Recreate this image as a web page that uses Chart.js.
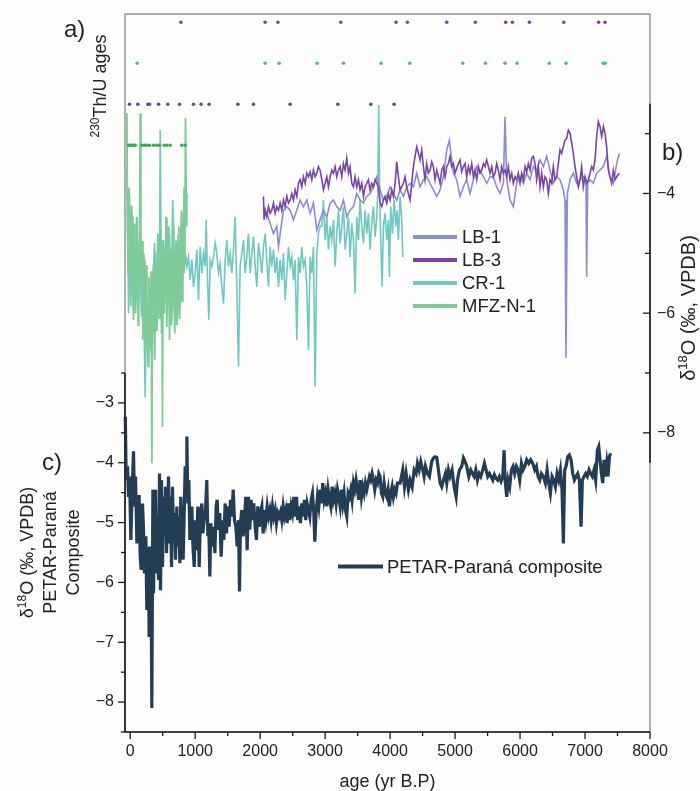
<!DOCTYPE html>
<html>
<head>
<meta charset="utf-8">
<script src="https://cdn.jsdelivr.net/npm/chart.js@4.4.1/dist/chart.umd.min.js"></script>
<style>
  html, body { margin: 0; padding: 0; background: #fdfdfb; }
  #wrap { width: 700px; height: 791px; }
</style>
</head>
<body>
<div id="wrap"><canvas id="chart" width="700" height="791"></canvas></div>
<script>
const FONT = '"Liberation Sans", Arial, Helvetica, sans-serif';

// δ18O records: [age (yr B.P.), δ18O (‰ VPDB)]
const compositeSeries = [[-75,-3.23],[-62,-4.29],[-41,-4.06],[-26,-4.57],[-10,-4.23],[10,-5.29],[31,-4.45],[51,-3.81],[67,-4.73],[82,-4.23],[103,-5.35],[123,-4.96],[138,-4.54],[154,-5.57],[169,-5.79],[190,-4.68],[205,-5.12],[220,-5.85],[241,-5.23],[256,-6.46],[277,-5.40],[292,-6.91],[308,-5.40],[323,-6.07],[333,-8.10],[349,-4.45],[359,-6.18],[374,-4.96],[390,-4.45],[405,-5.85],[420,-4.96],[436,-5.96],[451,-4.18],[467,-6.13],[482,-4.29],[497,-5.74],[513,-4.57],[528,-5.18],[544,-4.40],[559,-5.51],[574,-4.84],[590,-4.23],[605,-5.35],[621,-4.57],[636,-5.74],[651,-4.40],[667,-5.29],[682,-4.84],[697,-5.62],[718,-4.73],[733,-5.40],[749,-4.90],[764,-5.68],[779,-4.57],[795,-5.23],[815,-5.62],[831,-4.84],[846,-4.06],[862,-4.29],[872,-3.56],[887,-4.68],[903,-4.29],[918,-5.29],[933,-5.07],[949,-4.73],[964,-5.35],[985,-5.74],[1000,-4.96],[1020,-5.46],[1041,-4.73],[1062,-5.74],[1082,-4.84],[1103,-4.68],[1118,-5.18],[1138,-4.96],[1159,-4.79],[1179,-4.29],[1195,-5.23],[1210,-5.07],[1226,-5.90],[1241,-5.01],[1262,-5.40],[1282,-5.07],[1303,-5.51],[1323,-4.73],[1338,-4.62],[1359,-5.12],[1379,-4.84],[1400,-5.57],[1420,-4.96],[1441,-5.29],[1461,-4.68],[1482,-5.18],[1502,-4.73],[1523,-5.07],[1544,-4.62],[1564,-4.90],[1585,-4.45],[1605,-4.96],[1626,-5.07],[1646,-5.40],[1667,-4.96],[1682,-6.15],[1697,-5.01],[1718,-4.79],[1738,-5.23],[1759,-4.96],[1779,-4.57],[1800,-5.46],[1820,-4.57],[1841,-5.12],[1861,-4.62],[1882,-4.96],[1902,-4.68],[1923,-5.07],[1943,-5.29],[1964,-4.73],[1985,-5.07],[2005,-4.84],[2026,-4.73],[2046,-5.18],[2067,-4.79],[2087,-4.96],[2108,-4.73],[2128,-4.90],[2149,-4.79],[2169,-4.96],[2190,-4.73],[2210,-4.90],[2231,-4.79],[2251,-5.01],[2272,-4.84],[2292,-4.90],[2313,-4.82],[2333,-4.96],[2354,-4.73],[2374,-4.90],[2395,-4.79],[2415,-5.01],[2436,-4.68],[2456,-4.96],[2477,-4.73],[2497,-4.84],[2518,-4.57],[2538,-4.90],[2559,-4.57],[2579,-4.96],[2600,-4.73],[2620,-5.01],[2641,-4.68],[2661,-4.90],[2682,-4.62],[2702,-4.96],[2723,-4.68],[2744,-4.79],[2764,-4.90],[2785,-4.62],[2805,-4.51],[2826,-4.84],[2841,-5.32],[2861,-4.84],[2882,-4.57],[2903,-4.73],[2923,-4.45],[2944,-4.68],[2964,-4.34],[2985,-4.62],[3005,-4.51],[3026,-4.73],[3046,-4.45],[3067,-4.62],[3087,-4.73],[3108,-4.40],[3128,-4.62],[3149,-4.51],[3169,-4.68],[3190,-4.45],[3210,-4.57],[3231,-4.73],[3251,-4.45],[3272,-4.68],[3292,-4.51],[3313,-4.79],[3333,-4.90],[3354,-4.51],[3374,-4.57],[3395,-4.45],[3415,-4.62],[3436,-4.34],[3456,-4.45],[3477,-4.29],[3497,-4.45],[3518,-4.62],[3538,-4.29],[3559,-4.57],[3579,-4.40],[3600,-4.51],[3620,-4.34],[3641,-4.45],[3661,-4.34],[3682,-4.23],[3702,-4.29],[3723,-4.18],[3743,-4.29],[3764,-4.45],[3785,-4.29],[3805,-4.34],[3826,-4.18],[3846,-4.23],[3867,-4.51],[3887,-4.57],[3908,-4.34],[3928,-4.51],[3949,-4.57],[3969,-4.45],[3990,-4.73],[4010,-4.51],[4031,-4.40],[4051,-4.57],[4072,-4.45],[4092,-4.51],[4113,-4.34],[4154,-4.34],[4195,-4.12],[4221,-4.40],[4247,-4.18],[4282,-4.45],[4308,-4.29],[4339,-4.40],[4370,-4.12],[4400,-4.18],[4421,-4.01],[4447,-4.12],[4472,-3.98],[4503,-4.12],[4523,-4.23],[4544,-4.06],[4575,-4.18],[4605,-4.23],[4641,-3.98],[4667,-3.92],[4693,-3.90],[4718,-3.91],[4744,-4.12],[4770,-4.34],[4795,-4.40],[4821,-4.29],[4852,-4.18],[4872,-4.34],[4898,-4.12],[4923,-4.23],[4954,-4.12],[4985,-4.40],[5016,-4.57],[5036,-4.29],[5067,-4.12],[5103,-4.06],[5129,-3.92],[5154,-3.98],[5180,-4.06],[5211,-4.23],[5241,-4.12],[5267,-4.18],[5293,-4.23],[5318,-4.12],[5344,-4.29],[5370,-4.18],[5395,-4.23],[5426,-4.12],[5452,-4.01],[5477,-4.12],[5503,-4.23],[5529,-4.18],[5554,-4.23],[5580,-4.29],[5605,-4.20],[5631,-4.26],[5657,-4.29],[5682,-4.23],[5708,-4.31],[5734,-4.23],[5754,-3.79],[5770,-4.29],[5795,-4.57],[5816,-4.29],[5841,-4.40],[5867,-4.12],[5893,-4.06],[5918,-4.18],[5944,-4.06],[5969,-4.12],[5995,-4.29],[6021,-4.01],[6046,-4.12],[6072,-4.06],[6103,-3.95],[6134,-4.01],[6164,-3.95],[6195,-4.01],[6226,-4.12],[6252,-4.06],[6277,-4.23],[6303,-4.29],[6328,-4.18],[6359,-4.23],[6390,-4.34],[6416,-4.12],[6441,-4.34],[6467,-4.51],[6493,-4.23],[6518,-4.29],[6544,-4.40],[6570,-4.18],[6595,-4.29],[6621,-4.12],[6646,-4.45],[6667,-5.35],[6687,-4.12],[6708,-4.06],[6734,-3.90],[6759,-3.87],[6785,-3.95],[6811,-4.18],[6836,-4.29],[6862,-4.23],[6887,-4.18],[6913,-4.29],[6939,-5.07],[6959,-4.29],[6985,-4.23],[7011,-4.18],[7036,-4.23],[7062,-4.12],[7087,-4.18],[7113,-4.23],[7139,-4.12],[7164,-4.29],[7190,-3.79],[7211,-3.73],[7231,-3.95],[7252,-4.18],[7272,-4.34],[7293,-3.95],[7313,-4.23],[7334,-4.01],[7354,-4.23],[7375,-3.90],[7395,-3.84]];

const lb1Series = [[2077,-4.28],[2102,-4.33],[2154,-4.50],[2205,-4.67],[2256,-4.55],[2282,-4.89],[2308,-4.67],[2359,-4.28],[2410,-4.22],[2461,-4.28],[2513,-4.44],[2564,-4.28],[2615,-4.11],[2666,-4.22],[2718,-4.11],[2769,-4.33],[2820,-4.16],[2872,-4.61],[2923,-4.44],[2974,-4.28],[3025,-4.39],[3077,-4.16],[3128,-4.11],[3179,-4.22],[3231,-4.28],[3282,-4.11],[3333,-4.39],[3384,-4.28],[3436,-4.22],[3487,-4.00],[3538,-4.11],[3590,-4.16],[3641,-4.05],[3692,-4.00],[3743,-3.89],[3795,-3.72],[3846,-3.94],[3897,-4.11],[3948,-4.05],[4000,-3.89],[4051,-4.00],[4102,-4.11],[4154,-3.94],[4205,-4.05],[4256,-3.89],[4307,-3.83],[4359,-3.89],[4410,-3.66],[4461,-3.89],[4513,-3.77],[4564,-3.72],[4615,-3.83],[4666,-3.94],[4718,-4.05],[4769,-3.94],[4820,-3.72],[4872,-3.27],[4913,-3.11],[4948,-3.44],[4974,-3.66],[5025,-3.77],[5077,-4.05],[5128,-3.89],[5179,-3.77],[5230,-4.00],[5282,-3.77],[5333,-3.55],[5384,-3.61],[5436,-3.72],[5487,-3.83],[5538,-3.72],[5589,-3.72],[5641,-3.89],[5692,-4.00],[5743,-3.83],[5769,-2.72],[5795,-3.77],[5846,-4.11],[5897,-4.22],[5948,-3.83],[6000,-3.72],[6051,-3.83],[6102,-3.66],[6154,-3.77],[6205,-3.55],[6256,-3.61],[6307,-3.44],[6359,-3.55],[6410,-3.38],[6461,-3.61],[6512,-3.83],[6564,-3.72],[6615,-3.77],[6666,-3.94],[6692,-4.11],[6707,-6.75],[6728,-4.00],[6769,-3.77],[6820,-3.66],[6871,-3.83],[6923,-3.77],[6974,-3.72],[7015,-3.77],[7025,-5.39],[7041,-3.83],[7077,-3.77],[7128,-3.83],[7179,-3.66],[7230,-3.61],[7282,-3.55],[7333,-3.38],[7384,-3.72],[7436,-3.83],[7487,-3.50],[7528,-3.33]];

const lb3Series = [[2051,-4.05],[2061,-4.44],[2077,-4.28],[2102,-4.39],[2128,-4.22],[2154,-4.33],[2179,-4.28],[2205,-4.16],[2231,-4.33],[2256,-4.22],[2282,-4.28],[2308,-4.16],[2333,-4.28],[2359,-4.11],[2384,-4.22],[2410,-4.05],[2436,-4.16],[2461,-4.11],[2487,-4.00],[2513,-4.11],[2538,-3.94],[2564,-4.05],[2590,-3.83],[2615,-3.77],[2641,-3.89],[2666,-3.72],[2692,-3.83],[2718,-3.66],[2743,-3.72],[2769,-3.64],[2795,-3.77],[2820,-3.61],[2846,-3.72],[2872,-3.66],[2897,-3.55],[2923,-3.61],[2949,-3.77],[2974,-3.94],[3000,-3.83],[3025,-3.72],[3051,-3.89],[3077,-3.72],[3102,-3.61],[3128,-3.66],[3154,-3.55],[3179,-3.72],[3205,-3.61],[3231,-3.55],[3256,-3.72],[3282,-3.50],[3307,-3.61],[3333,-3.41],[3359,-3.66],[3384,-3.55],[3410,-3.83],[3436,-3.89],[3461,-3.72],[3487,-3.89],[3513,-3.77],[3538,-3.94],[3564,-3.83],[3590,-4.05],[3615,-3.89],[3641,-3.83],[3666,-3.77],[3692,-3.94],[3718,-3.83],[3743,-3.89],[3769,-3.77],[3795,-3.83],[3820,-3.89],[3846,-4.16],[3872,-4.22],[3897,-4.11],[3923,-4.05],[3948,-4.16],[3974,-4.00],[4000,-4.11],[4025,-3.94],[4051,-4.05],[4077,-3.83],[4102,-3.47],[4128,-3.72],[4154,-3.94],[4179,-3.89],[4205,-3.83],[4230,-3.72],[4256,-3.89],[4282,-4.00],[4307,-4.11],[4333,-3.83],[4359,-3.55],[4384,-3.38],[4410,-3.22],[4436,-3.33],[4461,-3.44],[4487,-3.27],[4513,-3.55],[4538,-3.77],[4564,-3.50],[4589,-3.66],[4615,-3.61],[4641,-3.47],[4666,-3.55],[4692,-3.77],[4718,-3.61],[4743,-3.72],[4769,-3.83],[4795,-3.61],[4820,-3.55],[4846,-3.72],[4872,-3.55],[4897,-3.50],[4923,-3.38],[4948,-3.55],[4974,-3.50],[5000,-3.66],[5025,-3.58],[5051,-3.50],[5077,-3.44],[5102,-3.64],[5128,-3.55],[5154,-3.50],[5179,-3.72],[5205,-3.55],[5230,-3.66],[5256,-3.50],[5282,-3.72],[5307,-3.61],[5333,-3.77],[5359,-3.55],[5384,-3.66],[5410,-3.61],[5436,-3.50],[5461,-3.55],[5487,-3.44],[5513,-3.55],[5538,-3.66],[5564,-3.55],[5589,-3.72],[5615,-3.66],[5641,-3.50],[5666,-3.61],[5692,-3.77],[5718,-3.55],[5743,-3.66],[5769,-3.61],[5795,-3.72],[5820,-3.55],[5846,-3.77],[5872,-3.66],[5897,-3.83],[5923,-3.72],[5948,-3.77],[5974,-3.66],[6000,-3.83],[6025,-3.66],[6051,-3.77],[6077,-3.55],[6102,-3.64],[6128,-3.50],[6154,-3.61],[6179,-3.41],[6205,-3.38],[6230,-3.50],[6256,-3.77],[6282,-3.55],[6307,-3.89],[6333,-3.66],[6359,-3.89],[6384,-3.72],[6410,-3.77],[6436,-4.00],[6461,-3.77],[6487,-3.83],[6512,-3.55],[6538,-3.77],[6564,-3.72],[6589,-3.50],[6615,-3.27],[6641,-3.33],[6666,-3.22],[6692,-3.11],[6718,-3.08],[6743,-2.94],[6769,-2.99],[6795,-3.16],[6820,-3.33],[6846,-3.55],[6871,-3.72],[6897,-3.89],[6923,-3.77],[6948,-3.55],[6974,-3.89],[7000,-3.72],[7025,-3.83],[7051,-3.77],[7077,-3.66],[7102,-3.55],[7128,-3.61],[7154,-3.44],[7179,-3.05],[7205,-2.80],[7230,-2.88],[7256,-3.05],[7282,-2.88],[7307,-2.99],[7333,-3.22],[7359,-3.61],[7384,-3.72],[7410,-3.83],[7436,-3.61],[7461,-3.77],[7487,-3.72],[7528,-3.66]];

const cr1Series = [[-50,-3.55],[-25,-6.00],[0,-4.55],[25,-5.56],[50,-4.78],[75,-5.78],[100,-4.39],[125,-5.45],[150,-5.11],[175,-6.06],[200,-5.33],[231,-7.40],[250,-5.67],[275,-6.45],[300,-5.89],[325,-6.67],[350,-5.45],[375,-4.83],[400,-5.78],[425,-4.67],[450,-5.45],[462,-2.94],[480,-5.56],[505,-4.78],[530,-5.78],[555,-4.39],[580,-5.33],[605,-4.67],[630,-5.67],[655,-4.11],[680,-5.45],[705,-4.78],[730,-5.78],[755,-4.89],[780,-5.56],[805,-4.67],[830,-5.33],[851,-5.00],[872,-5.22],[897,-5.06],[923,-5.45],[949,-5.11],[974,-5.56],[1000,-5.33],[1026,-4.94],[1051,-5.78],[1077,-4.89],[1103,-5.33],[1128,-5.00],[1154,-5.22],[1169,-4.44],[1190,-5.45],[1210,-6.11],[1231,-5.11],[1256,-5.22],[1282,-5.06],[1308,-4.83],[1333,-5.00],[1359,-5.33],[1385,-5.17],[1410,-5.56],[1436,-5.84],[1462,-5.11],[1487,-4.78],[1513,-5.22],[1538,-5.00],[1564,-5.33],[1590,-4.94],[1615,-4.39],[1641,-5.56],[1667,-6.89],[1692,-5.22],[1718,-5.00],[1744,-4.78],[1769,-5.33],[1795,-5.06],[1820,-4.67],[1846,-5.33],[1872,-5.00],[1897,-4.72],[1923,-5.22],[1949,-5.56],[1974,-4.83],[2000,-5.06],[2026,-5.33],[2051,-4.89],[2077,-4.67],[2102,-5.11],[2128,-5.56],[2154,-4.89],[2179,-5.22],[2205,-4.94],[2231,-5.33],[2256,-5.06],[2282,-5.56],[2308,-5.11],[2333,-5.45],[2359,-5.00],[2385,-5.78],[2410,-5.33],[2436,-4.89],[2462,-5.22],[2487,-5.06],[2513,-5.45],[2538,-5.11],[2564,-6.45],[2590,-5.06],[2615,-5.33],[2641,-4.89],[2667,-5.22],[2692,-5.11],[2718,-5.56],[2744,-6.62],[2769,-5.06],[2795,-5.33],[2820,-4.89],[2846,-7.23],[2872,-5.00],[2897,-4.67],[2923,-4.55],[2949,-4.55],[2974,-4.11],[3000,-4.78],[3025,-4.39],[3051,-4.94],[3077,-4.55],[3102,-4.78],[3128,-4.44],[3154,-5.22],[3179,-4.67],[3205,-4.28],[3231,-4.83],[3256,-4.55],[3282,-4.22],[3307,-4.94],[3333,-4.67],[3359,-4.39],[3384,-5.06],[3410,-4.50],[3436,-4.78],[3461,-5.67],[3487,-4.39],[3513,-4.78],[3538,-4.11],[3564,-4.55],[3590,-4.83],[3615,-4.28],[3641,-4.67],[3666,-4.33],[3692,-4.94],[3718,-4.50],[3743,-4.22],[3769,-4.72],[3795,-4.39],[3810,-4.00],[3825,-2.52],[3841,-4.11],[3856,-4.78],[3877,-5.56],[3897,-4.55],[3923,-4.33],[3948,-4.78],[3974,-4.44],[3989,-5.39],[4010,-4.22],[4036,-4.67],[4061,-4.11],[4087,-4.55],[4107,-4.28],[4128,-4.78],[4154,-4.05],[4179,-4.44],[4195,-5.06]];

const mfzSeries = [[-51,-2.66],[-41,-4.60],[-31,-5.33],[-20,-3.90],[-10,-4.11],[0,-5.40],[10,-5.89],[20,-4.20],[31,-4.39],[41,-5.70],[51,-6.11],[62,-4.50],[72,-4.78],[82,-6.00],[92,-5.67],[103,-4.40],[113,-4.94],[123,-6.20],[133,-6.00],[143,-4.70],[154,-2.66],[164,-4.90],[174,-5.56],[185,-4.80],[195,-6.45],[205,-5.00],[215,-5.11],[226,-6.30],[236,-6.67],[246,-5.20],[256,-5.78],[267,-6.50],[277,-6.89],[287,-5.40],[297,-5.89],[310,-6.60],[322,-5.30],[334,-8.51],[342,-5.60],[350,-6.34],[358,-5.20],[365,-5.56],[372,-6.40],[379,-6.78],[390,-5.00],[400,-5.22],[410,-6.30],[420,-6.06],[430,-4.80],[441,-4.67],[451,-6.10],[462,-5.56],[472,-4.60],[482,-6.34],[490,-5.10],[497,-7.90],[505,-5.30],[513,-4.78],[528,-6.00],[544,-5.00],[554,-4.40],[564,-6.23],[575,-5.20],[585,-4.55],[595,-5.60],[605,-6.45],[615,-5.10],[626,-4.94],[636,-6.20],[646,-5.89],[657,-4.70],[667,-4.44],[677,-5.90],[687,-6.34],[697,-5.00],[708,-4.83],[718,-6.20],[728,-6.00],[738,-4.70],[749,-4.55],[759,-6.10],[769,-5.78],[780,-4.60],[790,-4.28],[800,-5.80],[810,-5.56],[820,-4.50],[831,-3.89],[841,-5.20],[851,-2.74],[862,-4.00],[872,-4.55]];

// 230Th/U ages (yr B.P.) for each record
const lb3Dates = [780, 2077, 2272, 3241, 4092, 4266, 4872, 5313, 5779, 5882, 6144, 6672, 7210, 7308];
const lb1Dates = [108, 2077, 2292, 2877, 3282, 3862, 4302, 5118, 5467, 5769, 5954, 6451, 6708, 7282, 7313];
const cr1Dates = [-11, 118, 272, 297, 436, 579, 759, 974, 1092, 1215, 1657, 1897, 2462, 3195, 3703, 4062];
const mfzDates = [-26, 0, 26, 51, 77, 180, 220, 257, 297, 359, 410, 451, 523, 564, 615, 795, 846];

// axis tick values
const ageTicks = [0, 1000, 2000, 3000, 4000, 5000, 6000, 7000, 8000];
const panelBTicks = [-8, -7, -6, -5, -4, -3];
const panelCTicks = [-8, -7, -6, -5, -4, -3];
const panelSpan = [-8.5, -2.5];

const COLORS = {
  composite: '#233d55',
  lb1: '#8b8ed0',
  lb3: '#7a45a6',
  cr1: '#70c8c1',
  mfz: '#7ccb98',
  lb3Dot: '#8a3f9c',
  lb1Dot: '#3fbfa0',
  cr1Dot: '#4c5b86',
  mfzDot: '#3aab5a',
  text: '#222222',
  axis: '#1a1a1a',
  frame: '#8a8a8a'
};

const pts = s => s.map(([x, y]) => ({ x, y }));
const dots = (ages, row) => ages.map(a => ({ x: a, y: row }));
const minus = v => (v < 0 ? '\u2212' + Math.abs(v) : String(v));

function lineSet(label, series, color, axis, width, order) {
  return {
    label, data: pts(series), yAxisID: axis, borderColor: color, backgroundColor: color,
    borderWidth: width, pointRadius: 0, tension: 0, fill: false, order, clip: false
  };
}
function dotSet(label, ages, row, color) {
  return {
    label, data: dots(ages, row), yAxisID: 'yA', type: 'scatter', showLine: false,
    pointRadius: 1.8, pointBorderWidth: 0, backgroundColor: color, borderColor: color, order: 1
  };
}

function richText(ctx, parts, x, y, size, rotated) {
  ctx.save();
  ctx.translate(x, y);
  if (rotated) ctx.rotate(-Math.PI / 2);
  let total = 0;
  parts.forEach(p => {
    ctx.font = (p.sup ? Math.round(size * 0.66) : size) + 'px ' + FONT;
    p.w = ctx.measureText(p.t).width;
    total += p.w;
  });
  let cx = -total / 2;
  ctx.fillStyle = COLORS.text;
  ctx.textAlign = 'left';
  ctx.textBaseline = 'alphabetic';
  parts.forEach(p => {
    ctx.font = (p.sup ? Math.round(size * 0.66) : size) + 'px ' + FONT;
    ctx.fillText(p.t, cx, p.sup ? -size * 0.4 : 0);
    cx += p.w;
  });
  ctx.restore();
}

function seg(ctx, x1, y1, x2, y2) {
  ctx.beginPath(); ctx.moveTo(x1, y1); ctx.lineTo(x2, y2); ctx.stroke();
}

const decor = {
  id: 'decor',
  beforeDraw(chart) {
    const ctx = chart.ctx;
    ctx.save();
    ctx.fillStyle = '#fdfdfb';
    ctx.fillRect(0, 0, chart.width, chart.height);
    ctx.restore();
  },
  afterDraw(chart) {
    const ctx = chart.ctx;
    const { left, right, top, bottom } = chart.chartArea;
    const sx = chart.scales.x, sb = chart.scales.yB, sc = chart.scales.yC;
    ctx.save();

    // frame
    ctx.strokeStyle = COLORS.frame;
    ctx.lineWidth = 1.3;
    ctx.strokeRect(left, top, right - left, bottom - top);

    // axis lines
    ctx.strokeStyle = COLORS.axis;
    ctx.lineWidth = 1.6;
    seg(ctx, left, bottom, right, bottom);
    seg(ctx, left, sc.getPixelForValue(panelSpan[1]), left, sc.getPixelForValue(panelSpan[0]));
    seg(ctx, right, sb.getPixelForValue(panelSpan[1]), right, sb.getPixelForValue(panelSpan[0]));

    // x ticks (major every 1000, minor every 500)
    ctx.lineWidth = 1.3;
    for (let v = 0; v <= 8000; v += 500) {
      const px = sx.getPixelForValue(v);
      seg(ctx, px, bottom, px, bottom + (v % 1000 === 0 ? 7 : 4));
    }
    // panel c ticks (outward)
    for (let v = panelSpan[0]; v <= panelSpan[1] + 1e-9; v += 0.5) {
      const py = sc.getPixelForValue(v);
      seg(ctx, left, py, left - (Number.isInteger(v) ? 7 : 4), py);
    }
    // panel b ticks (inward)
    for (let v = -8; v <= -3; v += 1) {
      const py = sb.getPixelForValue(v);
      seg(ctx, right, py, right - (v % 2 === 0 ? 7 : 5), py);
    }

    // legend, panel b
    const legB = [['LB-1', COLORS.lb1], ['LB-3', COLORS.lb3], ['CR-1', COLORS.cr1], ['MFZ-N-1', COLORS.mfz]];
    ctx.font = '18.5px ' + FONT;
    ctx.textBaseline = 'middle';
    ctx.textAlign = 'left';
    legB.forEach(([name, col], i) => {
      const y = 237 + i * 23;
      ctx.strokeStyle = col; ctx.lineWidth = 4;
      seg(ctx, 413, y, 457, y);
      ctx.fillStyle = COLORS.text;
      ctx.fillText(name, 462, y + 1);
    });
    // legend, panel c
    ctx.strokeStyle = COLORS.composite; ctx.lineWidth = 4;
    seg(ctx, 338, 566.5, 383, 566.5);
    ctx.fillStyle = COLORS.text;
    ctx.fillText('PETAR-Paraná composite', 387, 567.5);

    // panel letters
    ctx.font = '24px ' + FONT;
    ctx.textBaseline = 'alphabetic';
    ctx.fillText('a)', 64, 37);
    ctx.fillText('b)', 662, 160);
    ctx.fillText('c)', 42, 470);

    // axis titles
    richText(ctx, [{ t: '230', sup: true }, { t: 'Th/U ages' }], 106, 86, 18, true);
    const d18 = () => [{ t: 'δ' }, { t: '18', sup: true }, { t: 'O (‰, VPDB)' }];
    richText(ctx, d18(), 695, 308, 20, true);
    const cMid = (sc.getPixelForValue(panelSpan[0]) + sc.getPixelForValue(panelSpan[1])) / 2;
    richText(ctx, d18(), 33, cMid, 18, true);
    richText(ctx, [{ t: 'PETAR-Paraná' }], 56, cMid, 18, true);
    richText(ctx, [{ t: 'Composite' }], 79, cMid, 18, true);
    richText(ctx, [{ t: 'age (yr B.P)' }], (left + right) / 2, 787, 18, false);

    ctx.restore();
  }
};

const tickFont = { family: FONT, size: 16 };

new Chart(document.getElementById('chart'), {
  type: 'line',
  data: {
    datasets: [
      lineSet('PETAR-Paraná composite', compositeSeries, COLORS.composite, 'yC', 3.2, 0),
      dotSet('LB-3 dates', lb3Dates, 0, COLORS.lb3Dot),
      dotSet('LB-1 dates', lb1Dates, -1, COLORS.lb1Dot),
      dotSet('CR-1 dates', cr1Dates, -2, COLORS.cr1Dot),
      dotSet('MFZ-N-1 dates', mfzDates, -3, COLORS.mfzDot),
      lineSet('LB-3', lb3Series, COLORS.lb3, 'yB', 1.6, 2),
      lineSet('LB-1', lb1Series, COLORS.lb1, 'yB', 1.6, 3),
      lineSet('MFZ-N-1', mfzSeries, COLORS.mfz, 'yB', 1.8, 4),
      lineSet('CR-1', cr1Series, COLORS.cr1, 'yB', 1.6, 5)
    ]
  },
  options: {
    responsive: false,
    animation: false,
    devicePixelRatio: 1,
    layout: { padding: { top: 14, left: 0, right: 0, bottom: 0 } },
    plugins: { legend: { display: false }, tooltip: { enabled: false } },
    scales: {
      x: {
        type: 'linear', position: 'bottom', min: -80, max: 8000,
        afterBuildTicks: s => { s.ticks = ageTicks.map(v => ({ value: v })); },
        afterFit: s => { s.height = 59; s.paddingLeft = 0; s.paddingRight = 0; },
        ticks: { autoSkip: false, maxRotation: 0, padding: 10, color: COLORS.text, font: tickFont, callback: v => String(v) },
        grid: { display: false, drawTicks: false },
        border: { display: false }
      },
      yC: {
        type: 'linear', position: 'left', min: -8.5, max: 3.5,
        afterBuildTicks: s => { s.ticks = panelCTicks.map(v => ({ value: v })); },
        afterFit: s => { s.width = 125; s.paddingTop = 0; s.paddingBottom = 0; },
        ticks: { autoSkip: false, padding: 11, color: COLORS.text, font: tickFont, callback: v => minus(v) },
        grid: { display: false, drawTicks: false },
        border: { display: false }
      },
      yB: {
        type: 'linear', position: 'right', min: -13, max: -1,
        afterBuildTicks: s => { s.ticks = panelBTicks.map(v => ({ value: v })); },
        afterFit: s => { s.width = 50; s.paddingTop = 0; s.paddingBottom = 0; },
        ticks: { autoSkip: false, padding: 7, color: COLORS.text, font: tickFont, callback: v => (v % 2 === 0 ? minus(v) : '') },
        grid: { display: false, drawTicks: false },
        border: { display: false }
      },
      yA: { type: 'linear', display: false, min: -17.3, max: 0.2 }
    }
  },
  plugins: [decor]
});
</script>
</body>
</html>
